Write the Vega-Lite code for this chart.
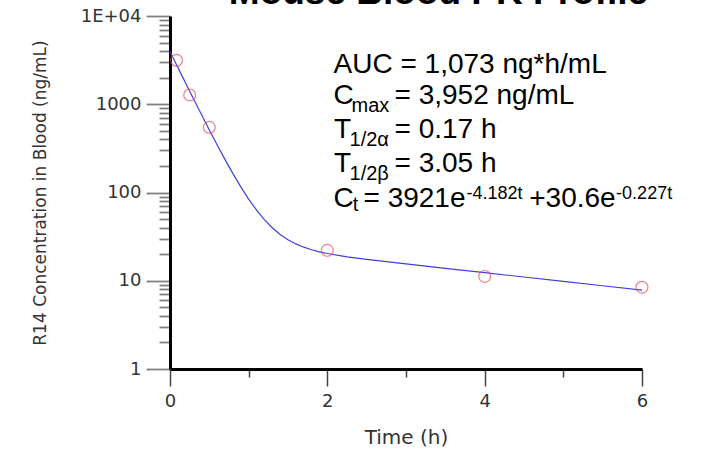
{
  "$schema": "https://vega.github.io/schema/vega-lite/v6.json",
  "width": 472,
  "height": 353,
  "autosize": {"type": "none"},
  "padding": {"left": 170, "top": 16, "right": 66, "bottom": 81},
  "background": "white",
  "config": {"view": {"stroke": null}},
  "datasets": {
    "curve": [
      {"t": 0, "c": 3951.6}, {"t": 0.05, "c": 3211.5}, {"t": 0.1, "c": 2610.7}, {"t": 0.15, "c": 2123.5},
      {"t": 0.2, "c": 1728.2}, {"t": 0.25, "c": 1407.3}, {"t": 0.3, "c": 1146.9}, {"t": 0.35, "c": 935.5},
      {"t": 0.4, "c": 764.0}, {"t": 0.45, "c": 624.9}, {"t": 0.5, "c": 511.8}, {"t": 0.6, "c": 345.6},
      {"t": 0.7, "c": 236.0}, {"t": 0.8, "c": 163.7}, {"t": 0.9, "c": 115.9}, {"t": 1.0, "c": 84.26},
      {"t": 1.1, "c": 63.25}, {"t": 1.2, "c": 49.24}, {"t": 1.3, "c": 39.85}, {"t": 1.4, "c": 33.51},
      {"t": 1.5, "c": 29.17}, {"t": 1.6, "c": 26.15}, {"t": 1.7, "c": 24.01}, {"t": 1.8, "c": 22.45},
      {"t": 1.9, "c": 21.27}, {"t": 2.0, "c": 20.35}, {"t": 2.25, "c": 18.68}, {"t": 2.5, "c": 17.46},
      {"t": 3.0, "c": 15.50}, {"t": 3.5, "c": 13.83}, {"t": 4.0, "c": 12.34}, {"t": 4.5, "c": 11.02},
      {"t": 5.0, "c": 9.84}, {"t": 5.5, "c": 8.78}, {"t": 6.0, "c": 7.84}
    ],
    "obs": [
      {"t": 0.083, "c": 3150}, {"t": 0.25, "c": 1276}, {"t": 0.5, "c": 548},
      {"t": 2, "c": 22.1}, {"t": 4, "c": 11.2}, {"t": 6, "c": 8.45}
    ],
    "main": [
      {"t": 2.079, "c": 2278, "label": "AUC = 1,073 ng*h/mL"},
      {"t": 2.079, "c": 1016, "label": "C"},
      {"t": 2.854, "c": 1016, "label": "= 3,952 ng/mL"},
      {"t": 2.086, "c": 413.5, "label": "T"},
      {"t": 2.854, "c": 413.5, "label": "= 0.17 h"},
      {"t": 2.086, "c": 170.6, "label": "T"},
      {"t": 2.854, "c": 170.6, "label": "= 3.05 h"},
      {"t": 2.079, "c": 67.7, "label": "C"},
      {"t": 2.46, "c": 67.7, "label": "= 3921e"},
      {"t": 4.567, "c": 67.7, "label": "+30.6e"}
    ],
    "sub": [
      {"t": 2.308, "c": 824.6, "label": "max"},
      {"t": 2.282, "c": 335.7, "label": "1/2α"},
      {"t": 2.282, "c": 138.5, "label": "1/2β"},
      {"t": 2.324, "c": 61.8, "label": "t"}
    ],
    "sup": [
      {"t": 3.77, "c": 85.5, "label": "-4.182t"},
      {"t": 5.671, "c": 85.5, "label": "-0.227t"}
    ],
    "head": [
      {"t": 3.413, "c": 13564, "label": "Mouse Blood PK Profile"}
    ]
  },
  "layer": [
    {
      "data": {"name": "curve"},
      "mark": {"type": "line", "color": "#4040d8", "strokeWidth": 1.2, "clip": false},
      "encoding": {
        "x": {
          "field": "t", "type": "quantitative",
          "scale": {"domain": [0, 6], "nice": false, "zero": false},
          "axis": {
            "title": "Time (h)",
            "values": [0, 1, 2, 3, 4, 5, 6],
            "format": "d",
            "labelExpr": "datum.value % 2 === 0 ? datum.label : ''",
            "labelFlush": false,
            "labelFont": "DejaVu Sans", "labelFontSize": 18, "labelColor": "#333",
            "labelPadding": 6,
            "tickColor": "#444", "tickWidth": 1.5,
            "tickSize": {"condition": {"test": "datum.value % 2 === 0", "value": 17}, "value": 8},
            "domainColor": "#000", "domainWidth": 3,
            "grid": false,
            "titleFont": "DejaVu Sans", "titleFontSize": 20, "titleFontWeight": "normal", "titleColor": "#333",
            "titlePadding": 17
          }
        },
        "y": {
          "field": "c", "type": "quantitative",
          "scale": {"type": "log", "domain": [1, 10000], "nice": false},
          "axis": {
            "title": "R14 Concentration in Blood (ng/mL)",
            "values": [1, 2, 3, 4, 5, 6, 7, 8, 9, 10, 20, 30, 40, 50, 60, 70, 80, 90, 100, 200, 300, 400, 500, 600, 700, 800, 900, 1000, 2000, 3000, 4000, 5000, 6000, 7000, 8000, 9000, 10000],
            "labelExpr": "datum.value == 10000 ? '1E+04' : (abs(log(datum.value)/LN10 - round(log(datum.value)/LN10)) < 0.001 ? format(datum.value, 'd') : '')",
            "labelFlush": false,
            "labelFont": "DejaVu Sans", "labelFontSize": 18, "labelColor": "#333",
            "labelPadding": 5,
            "tickColor": "#808080", "tickWidth": 1.8,
            "tickSize": {"condition": {"test": "abs(log(datum.value)/LN10 - round(log(datum.value)/LN10)) < 0.001", "value": 24}, "value": 11},
            "domainColor": "#000", "domainWidth": 3,
            "grid": false,
            "titleFont": "DejaVu Sans", "titleFontSize": 17, "titleFontWeight": "normal", "titleColor": "#333",
            "titlePadding": 31
          }
        }
      }
    },
    {
      "data": {"name": "obs"},
      "mark": {"type": "point", "shape": "circle", "filled": false, "color": "#e05060", "size": 140, "strokeWidth": 1.2, "clip": false},
      "encoding": {
        "x": {"field": "t", "type": "quantitative"},
        "y": {"field": "c", "type": "quantitative"}
      }
    },
    {
      "data": {"name": "main"},
      "mark": {"type": "text", "font": "Liberation Sans", "fontSize": 28, "align": "left", "baseline": "alphabetic", "color": "#000", "clip": false},
      "encoding": {
        "x": {"field": "t", "type": "quantitative"},
        "y": {"field": "c", "type": "quantitative"},
        "text": {"field": "label"}
      }
    },
    {
      "data": {"name": "sub"},
      "mark": {"type": "text", "font": "Liberation Sans", "fontSize": 20, "align": "left", "baseline": "alphabetic", "color": "#000", "clip": false},
      "encoding": {
        "x": {"field": "t", "type": "quantitative"},
        "y": {"field": "c", "type": "quantitative"},
        "text": {"field": "label"}
      }
    },
    {
      "data": {"name": "sup"},
      "mark": {"type": "text", "font": "Liberation Sans", "fontSize": 18, "align": "left", "baseline": "alphabetic", "color": "#000", "clip": false},
      "encoding": {
        "x": {"field": "t", "type": "quantitative"},
        "y": {"field": "c", "type": "quantitative"},
        "text": {"field": "label"}
      }
    },
    {
      "data": {"name": "head"},
      "mark": {"type": "text", "font": "Liberation Sans", "fontSize": 37, "fontWeight": "bold", "align": "center", "baseline": "alphabetic", "color": "#000", "clip": false},
      "encoding": {
        "x": {"field": "t", "type": "quantitative"},
        "y": {"field": "c", "type": "quantitative"},
        "text": {"field": "label"}
      }
    }
  ]
}
